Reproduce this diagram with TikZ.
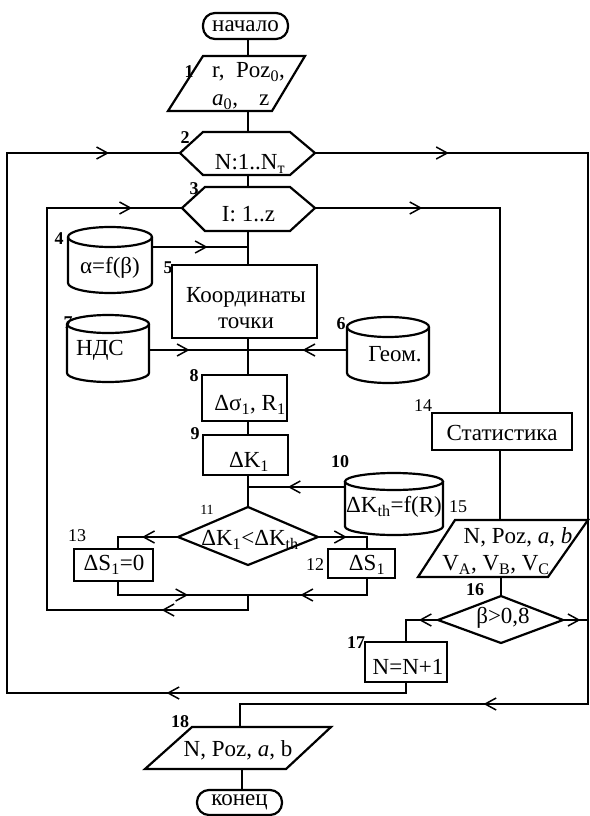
\documentclass[tikz,border=0pt]{standalone}
\usepackage{fontspec}
\setmainfont{Liberation Serif}
\usetikzlibrary{arrows.meta,decorations.markings,calc}
\tikzset{
  shp/.style={line width=2.2pt, line join=miter},
  ln/.style={line width=1.5pt, line cap=rect},
  arr/.style={postaction={decorate,decoration={markings,mark=at position #1 with {\arrow{Straight Barb[length=11pt,width=12pt,line width=1.5pt]}}}}},
  txt/.style={inner sep=0pt, font=\fontsize{23}{26}\selectfont},
  num/.style={inner sep=0pt, font=\fontsize{18}{20}\selectfont\bfseries},
  numr/.style={inner sep=0pt, font=\fontsize{18}{20}\selectfont},
  box/.style={shp, draw, rectangle, inner sep=0pt},
  term/.style={shp, draw, rounded corners=12pt, inner sep=0pt, font=\fontsize{23}{26}\selectfont},
}
\newcommand\mycyl[5]{%
  \pgfmathsetmacro\cxx{(#1+#2)/2}\pgfmathsetmacro\rxx{(#2-#1)/2}%
  \draw[shp] (\cxx,#3+#5) ellipse[x radius=\rxx, y radius=#5];
  \draw[shp] (#1,#3+#5) -- (#1,#4-#5) .. controls (#1,#4-0.448*#5) and (\cxx-0.552*\rxx,#4) .. (\cxx,#4) .. controls (\cxx+0.552*\rxx,#4) and (#2,#4-0.448*#5) .. (#2,#4-#5) -- (#2,#3+#5);
}
\begin{document}
\begin{tikzpicture}[x=1pt,y=-1pt]
\useasboundingbox (0,0) rectangle (589,816);
% ---------- coordinates
\coordinate (ax) at (248,0);
\coordinate (p1n) at (248,56);  \coordinate (p1s) at (248,111);
\coordinate (h2n) at (248,132); \coordinate (h2s) at (248,175);
\coordinate (h2w) at (180,153); \coordinate (h2e) at (315,153);
\coordinate (h3n) at (248,187); \coordinate (h3s) at (248,231);
\coordinate (h3w) at (182,208); \coordinate (h3e) at (315,208);
\coordinate (c4e) at (152,247); \coordinate (c7e) at (149,350);
\coordinate (c6w) at (347,350); \coordinate (c10w) at (345,487);
\coordinate (d11n) at (248,507); \coordinate (d11s) at (248,565);
\coordinate (d11w) at (178,537); \coordinate (d11e) at (318,537);
\coordinate (k1) at (118,537); \coordinate (k2) at (118,595);
\coordinate (k3) at (367,537); \coordinate (k4) at (367,595);
\coordinate (j1) at (248,595); \coordinate (j2) at (248,610);
\coordinate (L1) at (47,610); \coordinate (L2) at (47,208);
\coordinate (R1) at (500,208);
\coordinate (p15n) at (500,520); \coordinate (p15s) at (501,577);
\coordinate (d16n) at (501,596); \coordinate (d16s) at (501,643);
\coordinate (d16w) at (438,620); \coordinate (d16e) at (563,620);
\coordinate (O0) at (406,620); \coordinate (O1) at (406,693);
\coordinate (O2) at (7,693); \coordinate (O3) at (7,153);
\coordinate (E1) at (588,153); \coordinate (E2) at (588,620);
\coordinate (E3) at (588,704); \coordinate (E4) at (240,704);
\coordinate (p18n) at (240,727); \coordinate (p18s) at (242,769);
% ---------- blocks
\node[term, minimum width=85pt, minimum height=26pt] (n0) at (245.5,26) {начало};
\draw[shp] (203,56) -- (305,56) -- (272,111) -- (168,111) -- cycle;
\node[txt, align=left, anchor=west, font=\fontsize{23}{28}\selectfont] (t1) at (212,86) {r,\enspace Poz\textsubscript{0},\\\textit{a}\textsubscript{0},\enspace\, z};
\draw[shp] (h2w) -- (203,132) -- (290,132) -- (h2e) -- (290,175) -- (203,175) -- cycle;
\node[txt] (t2) at (250,164) {N:1..N\textsubscript{т}};
\draw[shp] (h3w) -- (205,187) -- (290,187) -- (h3e) -- (290,231) -- (205,231) -- cycle;
\node[txt] (t3) at (248.5,214) {I: 1..z};
\mycyl{68}{152}{227}{293}{10}
\node[txt] (c4) at (110,268) {α=f(β)};
\node[box, minimum width=145pt, minimum height=73pt] (b5) at (244.5,301.5) {};
\node[txt, align=center] (t5) at (246,308) {Координаты\\точки};
\mycyl{67}{149}{315}{382}{9}
\node[txt] (c7) at (100,350) {НДС};
\mycyl{347}{429}{317}{383}{10}
\node[txt] (c6) at (395,354) {Геом.};
\node[box, minimum width=85pt, minimum height=46pt] (b8) at (244.5,398) {};
\node[txt] (t8) at (250,405) {Δσ\textsubscript{1}, R\textsubscript{1}};
\node[box, minimum width=85pt, minimum height=40pt] (b9) at (245.5,455) {};
\node[txt] (t9) at (249,462) {ΔK\textsubscript{1}};
\mycyl{345}{443}{473}{535}{8.5}
\node[txt] (c10) at (394,507) {ΔK\textsubscript{th}=f(R)};
\draw[shp] (d11w) -- (d11n) -- (d11e) -- (d11s) -- cycle;
\node[txt] (t11) at (250,540) {ΔK\textsubscript{1}<ΔK\textsubscript{th}};
\node[box, minimum width=79pt, minimum height=32pt] (b13) at (113.5,565) {};
\node[txt] (t13) at (114,565) {ΔS\textsubscript{1}=0};
\node[box, minimum width=67pt, minimum height=29pt] (b12) at (361.5,563.5) {};
\node[txt] (t12) at (367,565) {ΔS\textsubscript{1}};
\node[box, minimum width=140pt, minimum height=37pt] (b14) at (502,431.5) {};
\node[txt] (t14) at (502,433) {Статистика};
\draw[shp] (455,520) -- (588,520) -- (548,577) -- (418,577) -- cycle;
\node[txt] (t15a) at (518,537) {N, Poz, \textit{a}, \textit{b}};
\node[txt] (t15b) at (496,565) {V\textsubscript{A}, V\textsubscript{B}, V\textsubscript{C}};
\draw[shp] (d16w) -- (d16n) -- (d16e) -- (d16s) -- cycle;
\node[txt] (t16) at (503,618) {β>0,8};
\node[box, minimum width=82pt, minimum height=40pt] (b17) at (406,662) {};
\node[txt] (t17) at (408,667) {N=N+1};
\draw[shp] (192,727) -- (331,727) -- (286,769) -- (145,769) -- cycle;
\node[txt] (t18) at (238,750) {N, Poz, \textit{a}, b};
\node[term, minimum width=85pt, minimum height=25pt] (n1) at (239.5,802.5) {конец};
% ---------- labels
\node[num] (l1) at (189,72) {1};
\node[num] (l2) at (185,138) {2};
\node[num] (l3) at (194,189) {3};
\node[num] (l4) at (59,239) {4};
\node[num] (l5) at (168,268) {5};
\node[num] (l6) at (341,324) {6};
\node[num] (l7) at (68,323) {7};
\node[num] (l8) at (194,376) {8};
\node[num] (l9) at (195,434) {9};
\node[num] (l10) at (340,462) {10};
\node[numr, font=\fontsize{14}{16}\selectfont] (l11) at (207,510) {11};
\node[numr] (l12) at (315,565) {12};
\node[numr] (l13) at (77,536) {13};
\node[numr] (l14) at (423,406) {14};
\node[numr] (l15) at (458,507) {15};
\node[num] (l16) at (475,590) {16};
\node[num] (l17) at (356,643) {17};
\node[num] (l18) at (180,722) {18};
% ---------- connectors
\draw[ln] (n0.south -| ax) -- (p1n);
\draw[ln] (p1s) -- (h2n);
\draw[ln] (h2s) -- (h3n);
\draw[ln] (h3s) -- (b5.north -| ax);
\draw[ln,arr=0.58] (c4e) -- (c4e -| ax);
\draw[ln,arr=0.41] (c7e) -- (c7e -| ax);
\draw[ln,arr=0.45] (c6w) -- (c6w -| ax);
\draw[ln] (b5.south -| ax) -- (b8.north -| ax);
\draw[ln] (b8.south -| ax) -- (b9.north -| ax);
\draw[ln] (b9.south -| ax) -- (d11n);
\draw[ln,arr=0.59] (c10w) -- (c10w -| ax);
\draw[ln,arr=0.6] (d11w) -- (k1);
\draw[ln] (k1) -- (b13.north -| k1);
\draw[ln,arr=0.59] (d11e) -- (k3);
\draw[ln] (k3) -- (b12.north -| k3);
\draw[ln] (b13.south -| k1) -- (k2);
\draw[ln,arr=0.54] (k2) -- (j1);
\draw[ln] (b12.south -| k3) -- (k4);
\draw[ln,arr=0.56] (k4) -- (j1);
\draw[ln] (j1) -- (j2);
\draw[ln,arr=0.43] (j2) -- (L1);
\draw[ln] (L1) -- (L2);
\draw[ln,arr=0.63] (L2) -- (h3w);
\draw[ln,arr=0.58] (h3e) -- (R1);
\draw[ln] (R1) -- (b14.north -| R1);
\draw[ln] (b14.south -| R1) -- (p15n);
\draw[ln] (p15s) -- (d16n);
\draw[ln,arr=0.6] (d16w) -- (O0);
\draw[ln] (O0) -- (b17.north);
\draw[ln] (b17.south) -- (O1);
\draw[ln,arr=0.6] (O1) -- (O2);
\draw[ln] (O2) -- (O3);
\draw[ln,arr=0.59] (O3) -- (h2w);
\draw[ln,arr=0.49] (h2e) -- (E1);
\draw[ln] (E1) -- (E3);
\draw[ln,arr=0.7] (d16e) -- (E2);
\draw[ln,arr=0.3] (E3) -- (E4);
\draw[ln] (E4) -- (p18n);
\draw[ln] (p18s) -- (n1.north -| p18s);
\end{tikzpicture}
\end{document}
